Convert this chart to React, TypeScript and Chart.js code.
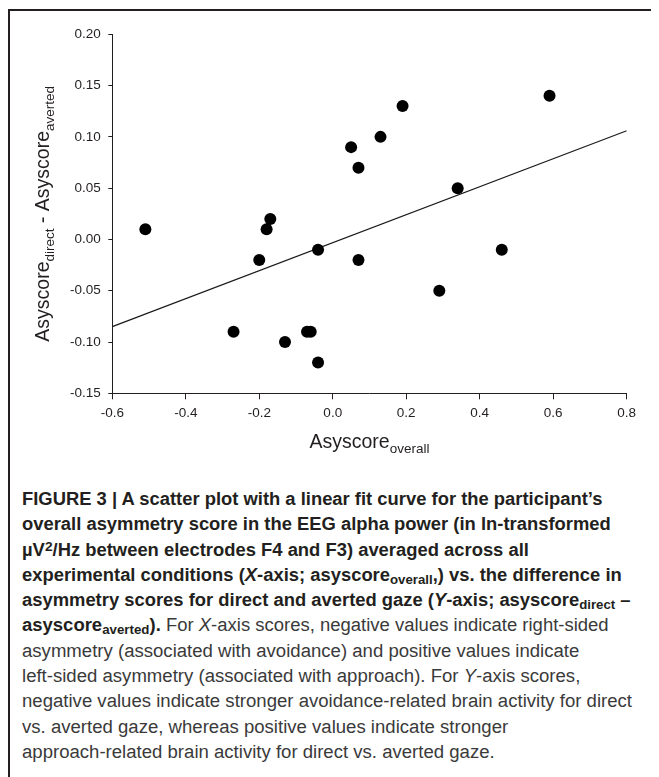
import React, { useEffect, useLayoutEffect, useRef } from "react";
import { Chart, registerables } from "chart.js";

Chart.register(...registerables);

const xValues = [-0.51, -0.27, -0.2, -0.18, -0.17, -0.13, -0.07, -0.06, -0.04, -0.04, 0.05, 0.07, 0.07, 0.13, 0.19, 0.29, 0.34, 0.46, 0.59];
const yValues = [0.01, -0.09, -0.02, 0.01, 0.02, -0.1, -0.09, -0.09, -0.01, -0.12, 0.09, 0.07, -0.02, 0.1, 0.13, -0.05, 0.05, -0.01, 0.14];
const fitX = [-0.6, 0.8];
const fitY = [-0.085, 0.106];
const xTickValues = [-0.6, -0.4, -0.2, 0.0, 0.2, 0.4, 0.6, 0.8];
const yTickValues = [-0.15, -0.1, -0.05, 0.0, 0.05, 0.1, 0.15, 0.2];

// caption line right edges (page px) of the long lines, layout only
const captionLineEnds = [608, 622, 487, 617, 618, 626, 541, 573, 640, 520, 481];
const boldRefLines = [0, 1, 3, 4];
const regRefLines = [7, 8];
const CAPTION_LEFT = 22;

const INK = "#231f20";
const AXIS_FONT = '"Liberation Sans", Arial, sans-serif';
const CAP_FONT = '"Liberation Sans", Arial, sans-serif';

function drawSubText(ctx: CanvasRenderingContext2D, parts: [string, boolean][], big: number, small: number) {
  let w = 0;
  for (const [t, sub] of parts) {
    ctx.font = `${sub ? small : big}px ${AXIS_FONT}`;
    w += ctx.measureText(t).width;
  }
  let x = -w / 2;
  for (const [t, sub] of parts) {
    ctx.font = `${sub ? small : big}px ${AXIS_FONT}`;
    ctx.fillText(t, x, sub ? 5 : 0);
    x += ctx.measureText(t).width;
  }
}

const titlesPlugin = {
  id: "axisTitles",
  afterDraw(chart: any) {
    const { ctx, chartArea } = chart;
    ctx.save();
    ctx.fillStyle = INK;
    ctx.textBaseline = "alphabetic";
    ctx.textAlign = "left";
    ctx.translate((chartArea.left + chartArea.right) / 2, 440);
    drawSubText(ctx, [["Asyscore", false], ["overall", true]], 19.5, 13.5);
    ctx.restore();
    ctx.save();
    ctx.fillStyle = INK;
    ctx.textBaseline = "alphabetic";
    ctx.textAlign = "left";
    ctx.translate(41, (chartArea.top + chartArea.bottom) / 2);
    ctx.rotate(-Math.PI / 2);
    drawSubText(ctx, [["Asyscore", false], ["direct", true], [" - Asyscore", false], ["averted", true]], 19.5, 13.5);
    ctx.restore();
  },
};

function fmt(v: number, d: number) {
  return (Math.abs(v) < 1e-9 ? 0 : v).toFixed(d);
}

const sub: React.CSSProperties = { fontSize: "0.72em", verticalAlign: "-0.25em", lineHeight: 0 };
const sup: React.CSSProperties = { fontSize: "0.75em", verticalAlign: "0.4em", lineHeight: 0 };

export default function App() {
  const ref = useRef<HTMLCanvasElement>(null);
  const capRef = useRef<HTMLDivElement>(null);

  useEffect(() => {
    if (!ref.current) return;
    const chart = new Chart(ref.current, {
      type: "scatter",
      data: {
        datasets: [
          {
            data: xValues.map((x, i) => ({ x, y: yValues[i] })),
            backgroundColor: "#000",
            borderColor: "#000",
            pointRadius: 6,
            pointHoverRadius: 6,
            borderWidth: 0,
          },
          {
            data: fitX.map((x, i) => ({ x, y: fitY[i] })),
            showLine: true,
            borderColor: "#1a1a1a",
            borderWidth: 1.2,
            pointRadius: 0,
            pointHoverRadius: 0,
          },
        ],
      },
      options: {
        animation: false,
        responsive: false,
        events: [],
        layout: { padding: { top: 26.3, right: 32.3, left: 0, bottom: 0 } },
        plugins: { legend: { display: false }, tooltip: { enabled: false } },
        scales: {
          x: {
            type: "linear",
            min: -0.6,
            max: 0.8,
            afterBuildTicks: (s: any) => {
              s.ticks = xTickValues.map((v) => ({ value: v }));
            },
            afterFit: (s: any) => {
              s.height = 74.7;
            },
            grid: { drawOnChartArea: false, tickLength: 6, color: INK, lineWidth: 1 },
            border: { color: INK, width: 1 },
            ticks: {
              color: INK,
              padding: 6,
              maxRotation: 0,
              font: { family: AXIS_FONT, size: 13.5 },
              callback: (v: any) => fmt(Number(v), 1),
            },
          },
          y: {
            type: "linear",
            min: -0.15,
            max: 0.2,
            afterBuildTicks: (s: any) => {
              s.ticks = yTickValues.map((v) => ({ value: v }));
            },
            afterFit: (s: any) => {
              s.width = 104.3;
            },
            grid: { drawOnChartArea: false, tickLength: 4, color: INK, lineWidth: 1 },
            border: { color: INK, width: 1 },
            ticks: {
              color: INK,
              padding: 7.5,
              font: { family: AXIS_FONT, size: 13.5 },
              callback: (v: any) => fmt(Number(v), 2),
            },
          },
        },
      },
      plugins: [titlesPlugin],
    });
    return () => chart.destroy();
  }, []);

  useLayoutEffect(() => {
    const fit = () => {
      const box = capRef.current;
      if (!box) return;
      const lines = Array.from(box.children) as HTMLElement[];
      lines.forEach((el) => (el.style.transform = "none"));
      const widths = lines.map((el) => el.getBoundingClientRect().width);
      const ratio = (idx: number[]) =>
        idx.reduce((a, i) => a + (captionLineEnds[i] - CAPTION_LEFT) / widths[i], 0) / idx.length;
      const sB = ratio(boldRefLines);
      const sR = ratio(regRefLines);
      lines.forEach((el, i) => {
        const s = i < 5 ? sB : i === 5 ? (sB + sR) / 2 : sR;
        el.style.transform = `scaleX(${s})`;
      });
    };
    fit();
    const fonts = (document as any).fonts;
    if (fonts && fonts.ready) fonts.ready.then(fit);
  }, []);

  const bold: React.CSSProperties = { fontWeight: "bold", color: INK };
  const reg: React.CSSProperties = { fontWeight: "normal", color: "#3a3a3a" };
  const line: React.CSSProperties = {
    whiteSpace: "nowrap",
    height: 25.3,
    lineHeight: "25.3px",
    width: "max-content",
    transformOrigin: "0 0",
  };

  return (
    <div style={{ position: "relative", width: 651, height: 769 }}>
      <div
        style={{
          position: "absolute",
          left: 0,
          top: 1,
          width: 651,
          height: 768,
          borderTop: `2px solid ${INK}`,
          borderLeft: `2px solid ${INK}`,
          boxSizing: "border-box",
        }}
      />
      <canvas ref={ref} width={651} height={460} style={{ position: "absolute", left: 0, top: 0 }} />
      <div
        ref={capRef}
        style={{
          position: "absolute",
          left: CAPTION_LEFT - 8,
          top: 479,
          fontFamily: CAP_FONT,
          fontSize: 18,
        }}
      >
        <div style={{ ...line, ...bold }}>FIGURE 3 | A scatter plot with a linear fit curve for the participant’s</div>
        <div style={{ ...line, ...bold }}>overall asymmetry score in the EEG alpha power (in ln-transformed</div>
        <div style={{ ...line, ...bold }}>
          µV<span style={sup}>2</span>/Hz between electrodes F4 and F3) averaged across all
        </div>
        <div style={{ ...line, ...bold }}>
          experimental conditions (<i>X</i>-axis; asyscore<span style={sub}>overall</span>,) vs. the difference in
        </div>
        <div style={{ ...line, ...bold }}>
          asymmetry scores for direct and averted gaze (<i>Y</i>-axis; asyscore<span style={sub}>direct</span> –
        </div>
        <div style={line}>
          <span style={bold}>
            asyscore<span style={sub}>averted</span>).
          </span>
          <span style={reg}> For <i>X</i>-axis scores, negative values indicate right-sided</span>
        </div>
        <div style={{ ...line, ...reg }}>asymmetry (associated with avoidance) and positive values indicate</div>
        <div style={{ ...line, ...reg }}>left-sided asymmetry (associated with approach). For <i>Y</i>-axis scores,</div>
        <div style={{ ...line, ...reg }}>negative values indicate stronger avoidance-related brain activity for direct</div>
        <div style={{ ...line, ...reg }}>vs. averted gaze, whereas positive values indicate stronger</div>
        <div style={{ ...line, ...reg }}>approach-related brain activity for direct vs. averted gaze.</div>
      </div>
    </div>
  );
}
